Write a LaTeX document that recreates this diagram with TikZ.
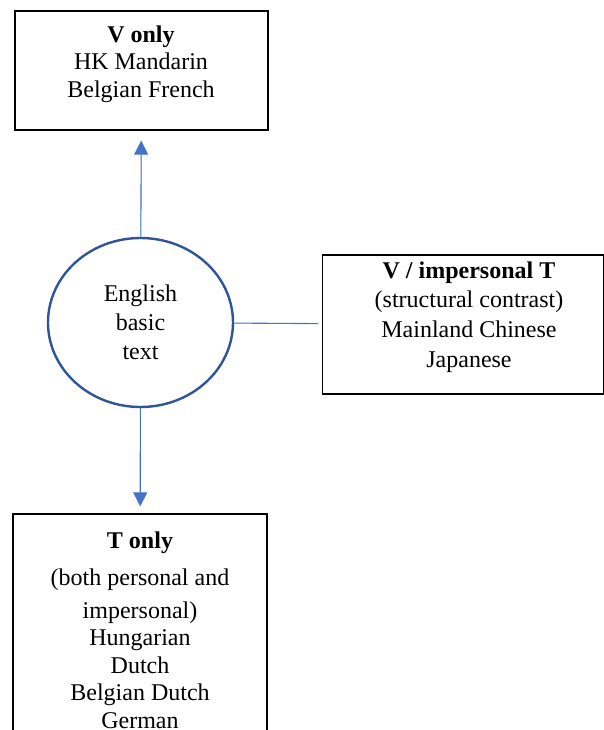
\documentclass[tikz,border=0pt]{standalone}
\usepackage{fontspec}
\setmainfont{Liberation Serif}
\usetikzlibrary{shapes.geometric,arrows.meta}

\begin{document}
\begin{tikzpicture}[x=0.5pt, y=-0.5pt,
  box/.style={draw=black, line width=0.6pt, rectangle, inner sep=0pt},
  txt/.style={align=center, inner sep=0pt, font=\fontsize{12}{13.8}\selectfont},
  hub/.style={draw={rgb,255:red,47;green,85;blue,151}, line width=1.2pt, ellipse,
    minimum width=92.5pt, minimum height=84.5pt, inner sep=0pt, align=center,
    font=\fontsize{12}{14.5}\selectfont},
  link/.style={draw={rgb,255:red,68;green,114;blue,196}, line width=0.55pt},
  tip/.style={-{Triangle[width=7pt,length=7pt]}, fill={rgb,255:red,68;green,114;blue,196}}]
\clip (0,0) rectangle (604,730);

\node [box, minimum width=126.5pt, minimum height=59.5pt] (vonly) at (141.5,70.5) {};
\node [txt] (vonlytxt) at (141,64) {\textbf{V only}\\HK Mandarin\\Belgian French};

\node [hub] (english) at (140.5,322.5) {English\\basic\\text};

\node [box, minimum width=140.5pt, minimum height=69.5pt] (vimp) at (463,324.5) {};
\node [txt, font=\fontsize{12}{14.8}\selectfont] (vimptxt) at (469,317)
  {\textbf{V / impersonal T}\\(structural contrast)\\Mainland Chinese\\Japanese};

\node [box, minimum width=127pt, minimum height=133pt] (tonly) at (140,647) {};
\node [txt, anchor=north] (tonlytxt) at (140,531)
  {\textbf{T only}\\[4.7pt](both personal and\\[2.7pt]impersonal)\\Hungarian\\Dutch\\Belgian Dutch\\German};

% connectors
\draw [link, tip, shorten >=5pt] (english) -- (vonly);
\draw [link, tip, shorten >=3.5pt] (english) -- (tonly);
\draw [link, shorten >=2pt] (english) -- (vimp);

\end{tikzpicture}
\end{document}
